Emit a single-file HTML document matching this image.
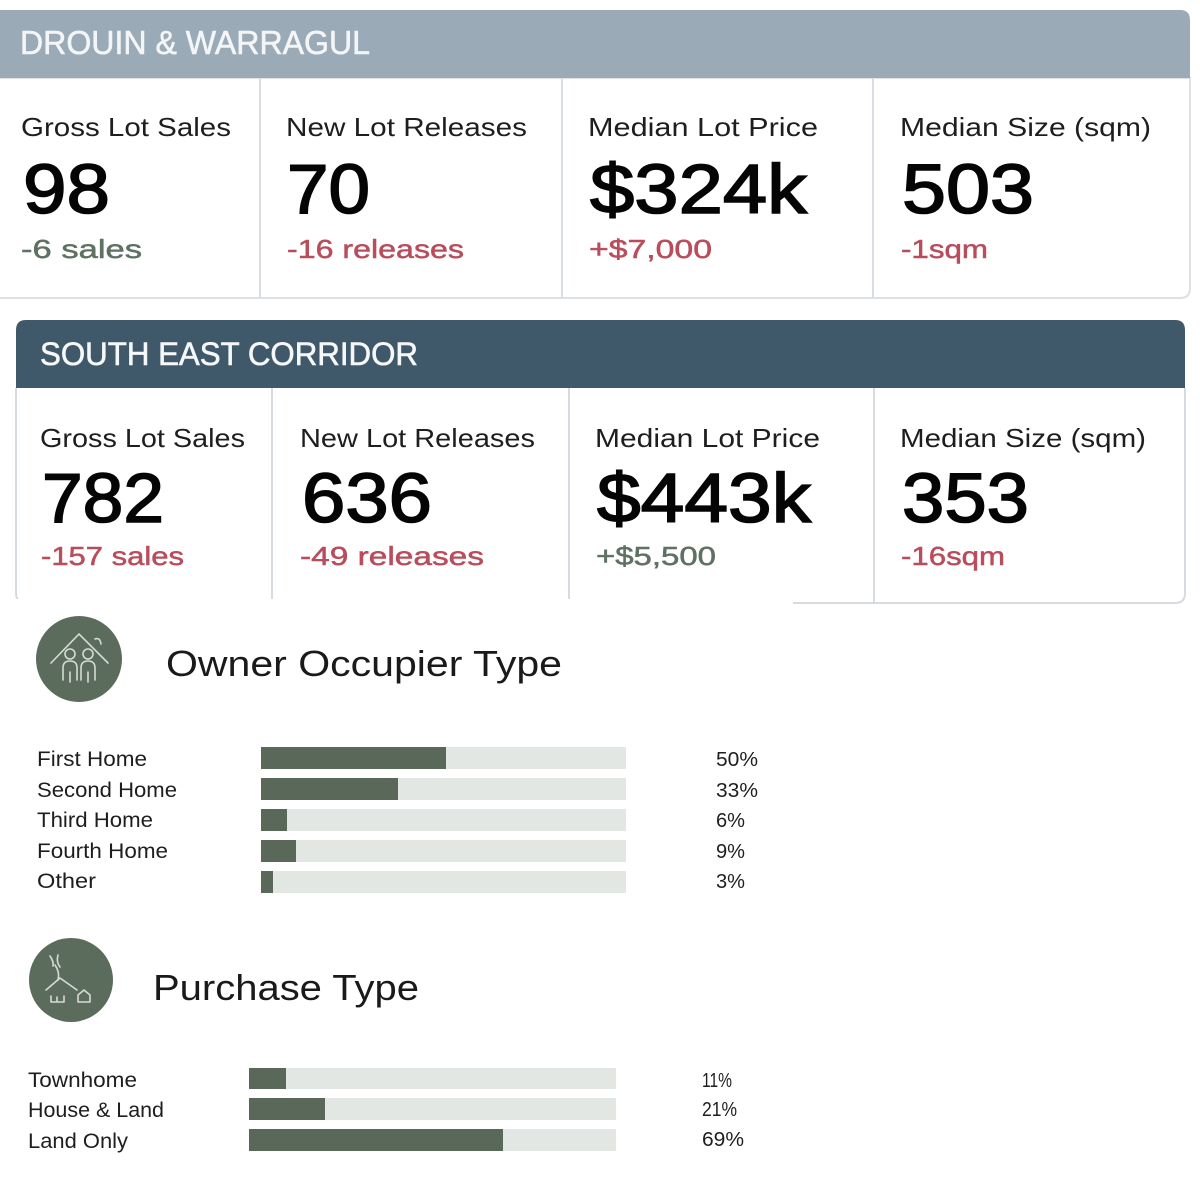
<!DOCTYPE html>
<html>
<head>
<meta charset="utf-8">
<style>
  html,body{margin:0;padding:0;background:#ffffff;}
  svg{display:block;}
  text{font-family:"Liberation Sans",Arial,sans-serif;}
</style>
</head>
<body>
<svg width="1200" height="1200" viewBox="0 0 1200 1200" xmlns="http://www.w3.org/2000/svg">
  <rect x="0" y="0" width="1200" height="1200" fill="#ffffff"/>

  <!-- ================= CARD 1 ================= -->
  <path d="M0,78 H1190 V288 Q1190,298 1180,298 H0" fill="#ffffff" stroke="#dde1e6" stroke-width="2"/>
  <path d="M0,10 H1180 Q1190,10 1190,20 V78 H0 Z" fill="#9aaab7"/>
  <line x1="260" y1="78" x2="260" y2="298" stroke="#d9dee4" stroke-width="2"/>
  <line x1="562" y1="78" x2="562" y2="298" stroke="#d9dee4" stroke-width="2"/>
  <line x1="873" y1="78" x2="873" y2="298" stroke="#d9dee4" stroke-width="2"/>

  <text x="20" y="54" font-size="33" fill="#f3f5f7" stroke="#f3f5f7" stroke-width="0.6" textLength="350" lengthAdjust="spacingAndGlyphs">DROUIN &amp; WARRAGUL</text>

  <g font-size="26" fill="#1e1e1e">
    <text x="21" y="136" textLength="210" lengthAdjust="spacingAndGlyphs">Gross Lot Sales</text>
    <text x="286" y="136" textLength="241" lengthAdjust="spacingAndGlyphs">New Lot Releases</text>
    <text x="588" y="136" textLength="230" lengthAdjust="spacingAndGlyphs">Median Lot Price</text>
    <text x="900" y="136" textLength="251" lengthAdjust="spacingAndGlyphs">Median Size (sqm)</text>
  </g>
  <g font-size="70" fill="#050505" stroke="#050505" stroke-width="1.6">
    <text x="23" y="213" textLength="87" lengthAdjust="spacingAndGlyphs">98</text>
    <text x="287" y="213" textLength="83" lengthAdjust="spacingAndGlyphs">70</text>
    <text x="590" y="213" textLength="217" lengthAdjust="spacingAndGlyphs">$324k</text>
    <text x="902" y="213" textLength="132" lengthAdjust="spacingAndGlyphs">503</text>
  </g>
  <g font-size="26" stroke-width="0.5">
    <text x="21" y="258" fill="#5e7263" stroke="#5e7263" textLength="121" lengthAdjust="spacingAndGlyphs">-6 sales</text>
    <text x="287" y="258" fill="#b94d5c" stroke="#b94d5c" textLength="177" lengthAdjust="spacingAndGlyphs">-16 releases</text>
    <text x="589" y="258" fill="#b94d5c" stroke="#b94d5c" textLength="123" lengthAdjust="spacingAndGlyphs">+$7,000</text>
    <text x="901" y="258" fill="#b94d5c" stroke="#b94d5c" textLength="87" lengthAdjust="spacingAndGlyphs">-1sqm</text>
  </g>

  <!-- ================= CARD 2 ================= -->
  <path d="M16,388 V593 Q16,603 26,603 H1175 Q1185,603 1185,593 V388" fill="#ffffff" stroke="#d6dbe1" stroke-width="2"/>
  <path d="M16,330 Q16,320 26,320 H1175 Q1185,320 1185,330 V388 H16 Z" fill="#3f596b"/>
  <line x1="272" y1="388" x2="272" y2="603" stroke="#d6dbe1" stroke-width="2"/>
  <line x1="569" y1="388" x2="569" y2="603" stroke="#d6dbe1" stroke-width="2"/>
  <line x1="874" y1="388" x2="874" y2="603" stroke="#d6dbe1" stroke-width="2"/>

  <text x="40" y="365" font-size="32" fill="#f5f7f8" stroke="#f5f7f8" stroke-width="0.6" textLength="378" lengthAdjust="spacingAndGlyphs">SOUTH EAST CORRIDOR</text>

  <g font-size="26" fill="#1e1e1e">
    <text x="40" y="447" textLength="205" lengthAdjust="spacingAndGlyphs">Gross Lot Sales</text>
    <text x="300" y="447" textLength="235" lengthAdjust="spacingAndGlyphs">New Lot Releases</text>
    <text x="595" y="447" textLength="225" lengthAdjust="spacingAndGlyphs">Median Lot Price</text>
    <text x="900" y="447" textLength="246" lengthAdjust="spacingAndGlyphs">Median Size (sqm)</text>
  </g>
  <g font-size="70" fill="#050505" stroke="#050505" stroke-width="1.6">
    <text x="42" y="522" textLength="122" lengthAdjust="spacingAndGlyphs">782</text>
    <text x="302" y="522" textLength="130" lengthAdjust="spacingAndGlyphs">636</text>
    <text x="597" y="522" textLength="214" lengthAdjust="spacingAndGlyphs">$443k</text>
    <text x="902" y="522" textLength="127" lengthAdjust="spacingAndGlyphs">353</text>
  </g>
  <g font-size="26" stroke-width="0.5">
    <text x="41" y="565" fill="#b94d5c" stroke="#b94d5c" textLength="143" lengthAdjust="spacingAndGlyphs">-157 sales</text>
    <text x="300" y="565" fill="#b94d5c" stroke="#b94d5c" textLength="184" lengthAdjust="spacingAndGlyphs">-49 releases</text>
    <text x="596" y="565" fill="#5e7263" stroke="#5e7263" textLength="120" lengthAdjust="spacingAndGlyphs">+$5,500</text>
    <text x="901" y="565" fill="#b94d5c" stroke="#b94d5c" textLength="104" lengthAdjust="spacingAndGlyphs">-16sqm</text>
  </g>

  <!-- white overlay cutting card 2 bottom-left -->
  <rect x="0" y="599" width="793" height="12" fill="#ffffff"/>

  <!-- ================= OWNER OCCUPIER TYPE ================= -->
  <circle cx="79" cy="659" r="43" fill="#5b6b5c"/>
  <g fill="none" stroke="#d5dbd5" stroke-width="1.6" stroke-linecap="round" stroke-linejoin="round">
    <polyline points="51,663 79,634 108,663"/>
    <path d="M95,639 Q100,637 101,644"/>
    <circle cx="70" cy="654" r="5"/>
    <circle cx="88" cy="654" r="5"/>
    <path d="M63,680 V668 Q63,661 70,661 Q77,661 77,668 V680"/>
    <path d="M81,680 V668 Q81,661 88,661 Q95,661 95,668 V680"/>
    <line x1="70" y1="672" x2="70" y2="682"/>
    <line x1="88" y1="672" x2="88" y2="682"/>
  </g>
  <text x="166" y="676" font-size="36" fill="#1a1a1a" textLength="396" lengthAdjust="spacingAndGlyphs">Owner Occupier Type</text>

  <g font-size="21" fill="#1e1e1e">
    <text x="37" y="766" textLength="110" lengthAdjust="spacingAndGlyphs">First Home</text>
    <text x="37" y="797" textLength="140" lengthAdjust="spacingAndGlyphs">Second Home</text>
    <text x="37" y="827" textLength="116" lengthAdjust="spacingAndGlyphs">Third Home</text>
    <text x="37" y="858" textLength="131" lengthAdjust="spacingAndGlyphs">Fourth Home</text>
    <text x="37" y="888" textLength="59" lengthAdjust="spacingAndGlyphs">Other</text>
  </g>
  <g fill="#e3e7e3">
    <rect x="261" y="747" width="365" height="22"/>
    <rect x="261" y="778" width="365" height="22"/>
    <rect x="261" y="809" width="365" height="22"/>
    <rect x="261" y="840" width="365" height="22"/>
    <rect x="261" y="871" width="365" height="22"/>
  </g>
  <g fill="#596858">
    <rect x="261" y="747" width="185" height="22"/>
    <rect x="261" y="778" width="137" height="22"/>
    <rect x="261" y="809" width="26" height="22"/>
    <rect x="261" y="840" width="35" height="22"/>
    <rect x="261" y="871" width="12" height="22"/>
  </g>
  <g font-size="20" fill="#1e1e1e">
    <text x="716" y="766" textLength="42" lengthAdjust="spacingAndGlyphs">50%</text>
    <text x="716" y="797" textLength="42" lengthAdjust="spacingAndGlyphs">33%</text>
    <text x="716" y="827" textLength="29" lengthAdjust="spacingAndGlyphs">6%</text>
    <text x="716" y="858" textLength="29" lengthAdjust="spacingAndGlyphs">9%</text>
    <text x="716" y="888" textLength="29" lengthAdjust="spacingAndGlyphs">3%</text>
  </g>

  <!-- ================= PURCHASE TYPE ================= -->
  <circle cx="71" cy="980" r="42" fill="#5b6b5c"/>
  <g fill="none" stroke="#d5dbd5" stroke-width="1.6" stroke-linecap="round" stroke-linejoin="round">
    <path d="M50,956 Q54,962 53,966 M58,955 Q56,962 60,967 M55,965 Q60,972 58,980"/>
    <polyline points="46,990 60,978 77,990"/>
    <path d="M51,1002 V996 M51,1002 H64 V996 M57,1002 V997"/>
    <path d="M78,1002 V995 L84,990 L90,995 V1002 Z"/>
  </g>
  <text x="153" y="1000" font-size="36" fill="#1a1a1a" textLength="266" lengthAdjust="spacingAndGlyphs">Purchase Type</text>

  <g font-size="21" fill="#1e1e1e">
    <text x="28" y="1087" textLength="109" lengthAdjust="spacingAndGlyphs">Townhome</text>
    <text x="28" y="1117" textLength="136" lengthAdjust="spacingAndGlyphs">House &amp; Land</text>
    <text x="28" y="1148" textLength="100" lengthAdjust="spacingAndGlyphs">Land Only</text>
  </g>
  <g fill="#e3e7e3">
    <rect x="249" y="1068" width="367" height="21"/>
    <rect x="249" y="1098" width="367" height="22"/>
    <rect x="249" y="1129" width="367" height="22"/>
  </g>
  <g fill="#596858">
    <rect x="249" y="1068" width="37" height="21"/>
    <rect x="249" y="1098" width="76" height="22"/>
    <rect x="249" y="1129" width="254" height="22"/>
  </g>
  <g font-size="20" fill="#1e1e1e">
    <text x="702" y="1087" textLength="30" lengthAdjust="spacingAndGlyphs">11%</text>
    <text x="702" y="1116" textLength="35" lengthAdjust="spacingAndGlyphs">21%</text>
    <text x="702" y="1146" textLength="42" lengthAdjust="spacingAndGlyphs">69%</text>
  </g>
</svg>
</body>
</html>
